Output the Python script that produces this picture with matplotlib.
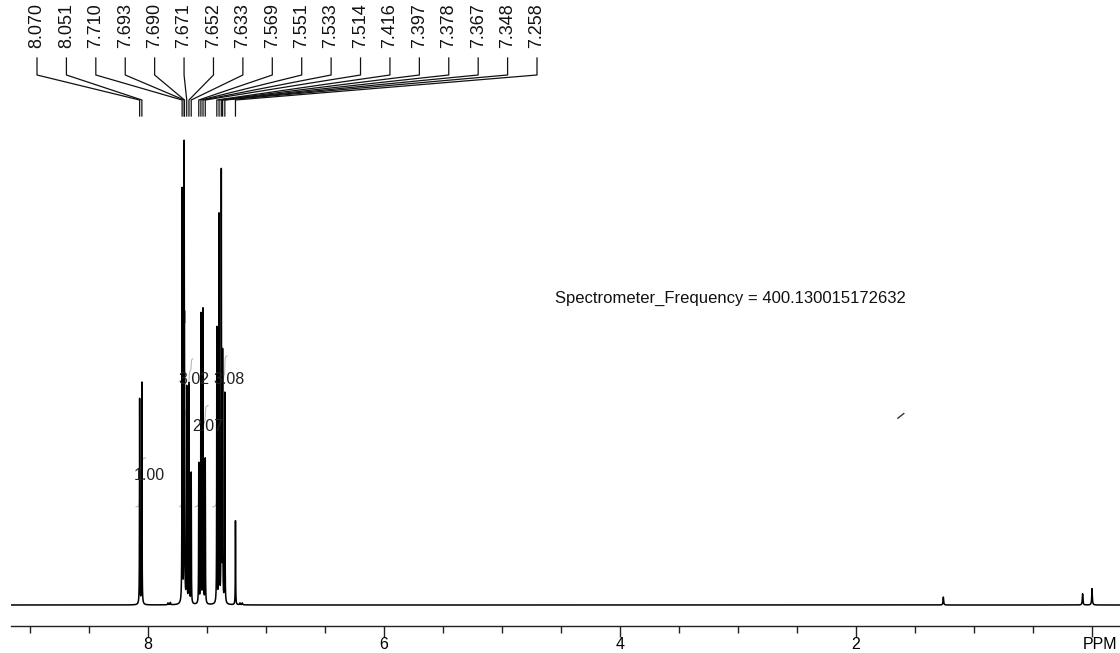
import numpy as np
import matplotlib
matplotlib.use("Agg")
import matplotlib.pyplot as plt
from matplotlib.lines import Line2D
from matplotlib.transforms import IdentityTransform, ScaledTranslation

# ---------------- data ----------------
peak_ppm = [8.070, 8.051, 7.710, 7.693, 7.690, 7.671, 7.652, 7.633,
            7.569, 7.551, 7.533, 7.514, 7.416, 7.397, 7.378, 7.367,
            7.348, 7.258]
peak_height = [0.44, 0.475, 0.885, 0.905, 0.45, 0.46, 0.47, 0.28,
               0.30, 0.62, 0.63, 0.31, 0.59, 0.83, 0.92, 0.53,
               0.45, 0.18]
peak_labels = ["8.070", "8.051", "7.710", "7.693", "7.690", "7.671", "7.652",
               "7.633", "7.569", "7.551", "7.533", "7.514", "7.416", "7.397",
               "7.378", "7.367", "7.348", "7.258"]
# minor (unlabelled) signals
minor_ppm = [7.83, 7.81, 7.22, 7.20, 1.26, 0.08, 0.00]
minor_height = [0.004, 0.005, 0.004, 0.004, 0.017, 0.024, 0.035]

# integrals: region (start, end) ppm, value, label position (ppm, height)
integral_start = [8.10, 7.73, 7.60, 7.45]
integral_end = [8.02, 7.62, 7.49, 7.33]
integral_value = [1.00, 3.02, 2.07, 3.08]
integral_label_ppm = [7.985, 7.614, 7.495, 7.31]
integral_label_y = [0.278, 0.482, 0.383, 0.482]
integral_base = 0.21
integral_per_h = 0.105

# stray integral fragment
stray_ppm = [1.645, 1.595]
stray_y = [0.400, 0.410]

freq_text = "Spectrometer_Frequency = 400.130015172632"

major_ticks = [8, 6, 4, 2, 0]
major_tick_labels = ["8", "6", "4", "2", "PPM"]

# ---------------- spectrum ----------------
ppm = np.linspace(9.3, -0.35, 240001)
hw = 0.0014
spec = np.zeros_like(ppm)
for p, h in zip(peak_ppm + minor_ppm, peak_height + minor_height):
    w = hw if h > 0.05 else 0.003
    spec += h * w**2 / ((ppm - p) ** 2 + w**2)

plt.rcParams['font.family'] = ['Liberation Sans', 'DejaVu Sans']

W, H = 1120, 653
fig = plt.figure(figsize=(W / 100, H / 100), dpi=100)
ax_left, ax_right = 11, 1120
ax_bottom_px = 626
ax = fig.add_axes([ax_left / W, (H - ax_bottom_px) / H,
                   (ax_right - ax_left) / W, ax_bottom_px / H])
ax.patch.set_alpha(0)
ax.set_xlim(9.16, -0.237)
unit = 467.0
ax.set_ylim(-(ax_bottom_px - 605) / unit, 605 / unit)

# integrals
for s, e, v in zip(integral_start, integral_end, integral_value):
    m = (ppm <= s) & (ppm >= e)
    xs = ppm[m]
    cum = np.cumsum(spec[m])
    cum = cum / cum[-1]
    ax.plot(xs, integral_base + v * integral_per_h * cum, color='#b8b8b8',
            lw=0.8, zorder=1)
ax.plot(stray_ppm, stray_y, color='#333333', lw=1.0, zorder=1)

ax.plot(ppm, spec, color='black', lw=1.1, zorder=2)

for v, xp, yp in zip(integral_value, integral_label_ppm, integral_label_y):
    ax.text(xp, yp, f"{v:.2f}", ha='center', va='center', fontsize=11.5,
            color='#222222', zorder=3)

for sp in ['top', 'right', 'left']:
    ax.spines[sp].set_visible(False)
ax.spines['bottom'].set_linewidth(1.0)
ax.spines['bottom'].set_color('#222222')
ax.set_yticks([])
ax.set_xticks(major_ticks)
ax.set_xticklabels(major_tick_labels)
ax.set_xticks(np.arange(9.0, -0.1, -0.5), minor=True)
ax.tick_params(axis='x', which='major', direction='out', length=8, width=1.0,
               color='#222222', labelsize=11.5, pad=0)
ax.tick_params(axis='x', which='minor', direction='out', length=5, width=1.0,
               color='#222222')
# shift "PPM" label a little to the right
ppm_lab = ax.get_xticklabels()[-1]
ppm_lab.set_transform(ppm_lab.get_transform() +
                      ScaledTranslation(8 / 100, 0, fig.dpi_scale_trans))

fig.text(555 / W, 1 - 298 / H, freq_text, ha='left', va='center',
         fontsize=12, color='#111111')

# peak labels with connectors
lab_x = np.linspace(37, 537, len(peak_labels))
for lx, p, txt in zip(lab_x, peak_ppm, peak_labels):
    fig.text(lx / W, 1 - 3 / H, txt, rotation=90, ha='center', va='top',
             fontsize=13, color='#111111')
    px = ax.transData.transform((p, 0))[0]
    ys = [H - 58, H - 75, H - 100, H - 116]
    xs = [lx, lx, px, px]
    fig.add_artist(Line2D(xs, ys, transform=IdentityTransform(),
                          color='#111111', lw=0.9))

fig.savefig("out.png", dpi=100)
